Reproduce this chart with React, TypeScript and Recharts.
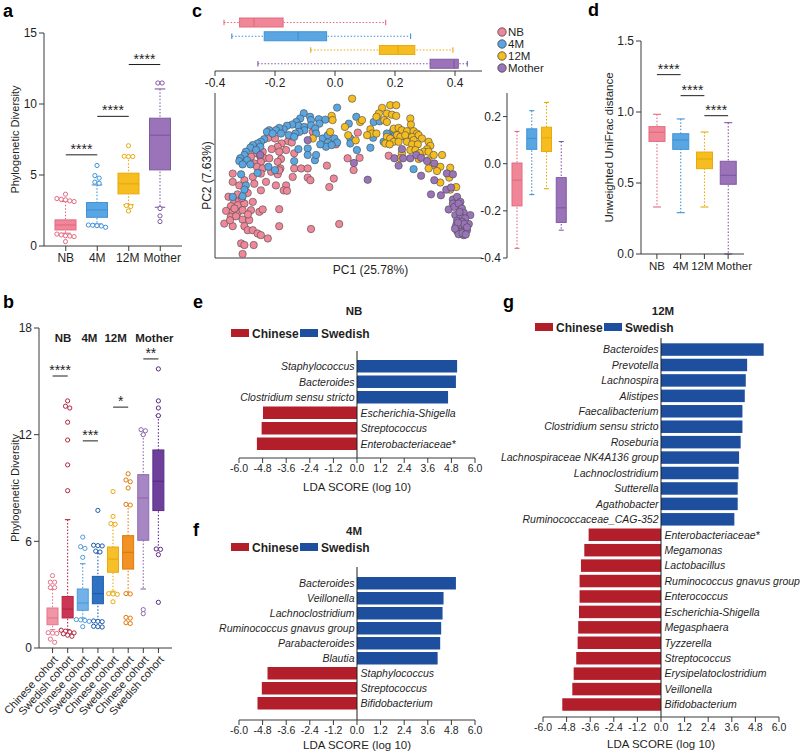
import React from 'react';
import {
  BarChart, ComposedChart, ScatterChart, Bar, Scatter, XAxis, YAxis, ReferenceLine, Legend, Label,
} from 'recharts';

const FONT = '"Liberation Sans", Arial, Helvetica, sans-serif';
const INK = '#1f1f1f';
const AXIS = '#3a3a3a';

// shared stage categories + colours
const STAGES = ['NB', '4M', '12M', 'Mother'];
const STAGE_FILL = ['#EF8799', '#5AA6E2', '#F6BD20', '#9A73B9'];
const STAGE_LINE = ['#E46A80', '#3F92D8', '#EAA90C', '#8059A6'];

// ---- a: phylogenetic diversity per stage
const A_LO = [0.9, 1.55, 2.9, 2.73];
const A_Q1 = [1.13, 2.02, 3.67, 5.36];
const A_MED = [1.48, 2.54, 4.38, 7.8];
const A_Q3 = [1.84, 3.06, 5.13, 9.0];
const A_HI = [3.13, 4.3, 6.3, 11.06];
const A_OUT = [
  [3.65, 3.34, 3.29, 3.25, 3.18, 3.13, 0.84, 0.78, 0.72, 0.7, 0.66, 0.31],
  [5.67, 4.96, 4.78, 4.5, 4.42, 1.48, 1.46, 1.43, 1.41, 1.32],
  [7.06, 6.32, 6.3, 6.3, 2.85, 2.78, 2.47],
  [11.48, 11.48, 2.64, 2.12, 1.72],
];
const A_SIG = [
  { from: 'NB', to: '4M', y: 6.42, mark: '****' },
  { from: '4M', to: '12M', y: 9.13, mark: '****' },
  { from: '12M', to: 'Mother', y: 12.78, mark: '****' },
];

// ---- b: per cohort
const COHORT_LABELS = ['Chinese cohort', 'Swedish cohort'];
const B_KEYS = STAGES.flatMap((s) => COHORT_LABELS.map((c) => `${s}|${c}`));
const B_LO = [1.03, 1.03, 1.69, 1.56, 3.19, 3.09, 3.32, 5.53];
const B_Q1 = [1.31, 1.69, 2.12, 2.49, 4.26, 4.44, 6.06, 7.73];
const B_MED = [1.69, 2.19, 2.53, 3.06, 5.0, 5.38, 8.44, 9.38];
const B_Q3 = [2.25, 2.9, 3.32, 4.03, 5.68, 6.32, 9.75, 11.14];
const B_HI = [3.3, 7.22, 4.74, 5.34, 7.03, 8.06, 12.0, 13.07];
const B_OUT = [
  [4.07, 3.7, 3.7, 3.4, 3.4, 0.86, 0.84, 0.82, 0.5, 0.32],
  [13.9, 13.6, 13.5, 12.7, 11.7, 10.3, 8.85, 1.0, 0.95, 0.9, 0.85, 0.8, 0.72, 0.66],
  [6.24, 5.7, 5.6, 5.1, 1.6, 1.58, 1.55, 1.5, 1.2],
  [7.74, 5.78, 5.76, 5.74, 5.45, 5.4, 1.52, 1.5, 1.48, 1.22, 1.2, 1.18],
  [8.8, 7.4, 7.0, 6.96, 3.06, 3.04, 3.02, 2.6],
  [9.8, 9.45, 9.35, 9.0, 8.08, 8.04, 3.06, 3.04, 1.72, 1.68, 1.42, 1.38],
  [12.28, 12.22, 12.0, 2.16, 1.93],
  [15.7, 13.9, 13.5, 13.07, 5.57, 5.55, 5.25, 2.57],
];
const B_FILL = ['#F097A7', '#CC3553', '#73B2E8', '#2F72C4', '#F6C02A', '#F19224', '#A786C4', '#6F3F9C'];
const B_LINE = ['#E57489', '#B42440', '#4F9ADB', '#1F5BAA', '#ECA90E', '#DE7A0D', '#8E68B0', '#5A2C86'];
const B_SIG = [
  { stage: 'NB', y: 15.3, mark: '****' },
  { stage: '4M', y: 11.65, mark: '***' },
  { stage: '12M', y: 13.55, mark: '*' },
  { stage: 'Mother', y: 16.26, mark: '**' },
];
const B_HEAD_Y = 17.45;

// ---- c: PCoA
const NB_PTS = [
  [-0.222, 0.11], [-0.2, 0.107], [-0.156, 0.096], [-0.144, 0.09], [-0.074, 0.135], [-0.178, 0.086], [-0.191, 0.072],
  [-0.211, 0.062], [-0.163, 0.058], [-0.136, 0.044], [-0.186, 0.051], [-0.241, 0.051], [-0.269, 0.044], [-0.249, 0.03],
  [-0.236, 0.023], [-0.219, 0.023], [-0.28, 0.03], [-0.18, 0.02], [-0.247, 0.008], [-0.191, 0.008], [-0.269, 0.001],
  [-0.26, -0.013], [-0.241, -0.02], [-0.182, -0.02], [-0.136, -0.02], [-0.113, -0.02], [-0.091, -0.02], [-0.027, -0.008],
  [0.003, 0.082], [0.042, 0.023], [-0.213, -0.034], [-0.341, -0.042], [-0.302, -0.07], [-0.274, -0.056], [-0.247, -0.042],
  [-0.191, -0.045], [-0.186, -0.028], [-0.141, -0.056], [-0.091, -0.059], [-0.082, -0.07], [-0.004, -0.063], [-0.019, -0.099],
  [-0.341, -0.077], [-0.319, -0.092], [-0.269, -0.085], [-0.23, -0.077], [-0.197, -0.092], [-0.163, -0.092], [-0.171, -0.113],
  [-0.16, -0.115], [-0.247, -0.113], [-0.291, -0.124], [-0.336, -0.162], [-0.319, -0.155], [-0.347, -0.18], [-0.324, -0.176],
  [-0.302, -0.169], [-0.274, -0.162], [-0.363, -0.2], [-0.341, -0.204], [-0.324, -0.208], [-0.308, -0.197], [-0.28, -0.197],
  [-0.252, -0.204], [-0.241, -0.194], [-0.186, -0.193], [-0.347, -0.225], [-0.33, -0.223], [-0.308, -0.237], [-0.286, -0.239],
  [-0.369, -0.254], [-0.341, -0.265], [-0.302, -0.265], [-0.291, -0.282], [-0.274, -0.282], [-0.258, -0.296], [-0.247, -0.303],
  [-0.224, -0.317], [-0.186, -0.265], [-0.08, -0.277], [0.014, -0.256], [-0.313, -0.338], [-0.302, -0.345], [-0.271, -0.345],
  [-0.308, -0.383], [0.076, 0.132], [0.179, 0.034], [0.082, 0.025], [0.062, -0.027], [-0.325, -0.13], [-0.355, -0.14],
  [-0.31, -0.145], [-0.335, -0.19], [-0.29, -0.215], [-0.35, -0.24],
];
const M4_PTS = [
  [0.007, 0.238], [-0.104, 0.214], [-0.083, 0.199], [-0.116, 0.192], [-0.08, 0.185], [-0.054, 0.189], [-0.129, 0.177],
  [-0.032, 0.187], [-0.122, 0.161], [-0.143, 0.166], [-0.102, 0.156], [-0.08, 0.163], [-0.052, 0.17], [-0.066, 0.149],
  [-0.102, 0.142], [-0.16, 0.161], [-0.171, 0.146], [-0.186, 0.152], [-0.197, 0.142], [-0.219, 0.142], [-0.227, 0.135],
  [-0.208, 0.128], [-0.18, 0.128], [-0.119, 0.135], [-0.132, 0.128], [-0.154, 0.121], [-0.136, 0.114], [-0.063, 0.128],
  [-0.041, 0.107], [-0.024, 0.121], [-0.002, 0.107], [0.007, 0.09], [-0.024, 0.09], [-0.03, 0.072], [-0.049, 0.082],
  [-0.011, 0.079], [-0.091, 0.065], [-0.122, 0.062], [-0.136, 0.011], [-0.091, 0.037], [-0.067, 0.015], [-0.063, 0.037],
  [-0.236, 0.104], [-0.247, 0.093], [-0.258, 0.086], [-0.274, 0.079], [-0.282, 0.068], [-0.249, 0.072], [-0.263, 0.058],
  [-0.297, 0.051], [-0.302, 0.037], [-0.316, 0.023], [-0.293, 0.015], [-0.319, 0.011], [-0.308, -0.003], [-0.282, -0.003],
  [-0.222, -0.013], [-0.2, -0.027], [-0.313, -0.045], [-0.258, -0.039], [-0.297, -0.092], [-0.302, -0.11], [-0.341, -0.141],
  [-0.308, -0.138], [0.071, 0.199], [0.046, 0.17], [0.129, 0.177], [0.149, 0.18], [0.193, 0.138], [0.201, 0.124],
  [0.223, 0.121], [0.234, 0.114], [0.173, 0.128], [0.162, 0.093], [0.127, 0.11], [0.118, 0.068], [0.073, 0.058],
  [0.051, 0.107], [0.051, 0.086], [0.262, -0.023],
];
const M12_PTS = [
  [-0.011, 0.203], [-0.008, 0.185], [0.033, 0.156], [-0.016, 0.135], [-0.074, 0.107], [0.044, 0.121], [0.057, 0.276],
  [0.184, 0.248], [0.204, 0.248], [0.157, 0.237], [0.146, 0.213], [0.173, 0.213], [0.19, 0.208], [0.204, 0.203],
  [0.138, 0.199], [0.084, 0.177], [0.164, 0.185], [0.173, 0.177], [0.251, 0.192], [0.253, 0.166], [0.196, 0.149],
  [0.212, 0.152], [0.223, 0.142], [0.24, 0.138], [0.262, 0.138], [0.273, 0.128], [0.118, 0.146], [0.123, 0.128],
  [0.107, 0.121], [0.138, 0.128], [0.207, 0.121], [0.218, 0.114], [0.234, 0.121], [0.257, 0.114], [0.279, 0.121],
  [0.173, 0.114], [0.184, 0.107], [0.196, 0.093], [0.212, 0.093], [0.24, 0.093], [0.262, 0.1], [0.29, 0.107],
  [0.168, 0.086], [0.182, 0.082], [0.257, 0.082], [0.276, 0.082], [0.312, 0.093], [0.318, 0.076], [0.251, 0.058],
  [0.268, 0.058], [0.307, 0.062], [0.296, 0.051], [0.312, 0.051], [0.223, 0.044], [0.282, 0.044], [0.329, 0.037],
  [0.357, 0.037], [0.279, 0.02], [0.312, 0.015], [0.327, -0.006], [0.351, -0.013], [0.384, -0.017], [0.312, -0.02],
  [0.34, -0.031], [0.218, 0.023], [0.351, -0.08], [0.381, -0.059], [0.384, -0.11], [0.404, -0.099], [0.069, 0.099],
  [0.09, 0.185],
];
const MOTHER_PTS = [
  [-0.091, 0.1], [-0.249, 0.037], [0.063, 0.003], [0.223, 0.062], [0.198, 0.023], [0.227, 0.023], [0.251, 0.023],
  [0.271, 0.037], [0.287, 0.025], [0.307, 0.011], [0.212, -0.008], [0.331, 0.001], [0.373, -0.041], [0.393, -0.045],
  [0.287, -0.051], [0.109, -0.068], [0.331, -0.07], [0.32, -0.13], [0.353, -0.134], [0.371, -0.11], [0.387, -0.101],
  [0.393, -0.152], [0.407, -0.141], [0.418, -0.162], [0.393, -0.169], [0.379, -0.194], [0.398, -0.183], [0.412, -0.169],
  [0.423, -0.19], [0.429, -0.208], [0.451, -0.218], [0.401, -0.218], [0.418, -0.225], [0.434, -0.232], [0.407, -0.242],
  [0.423, -0.246], [0.446, -0.256], [0.404, -0.261], [0.418, -0.27], [0.434, -0.275], [0.407, -0.285], [0.423, -0.289],
  [0.44, -0.282], [0.412, -0.299], [0.429, -0.303], [0.415, -0.205], [0.43, -0.255], [0.44, -0.27], [0.41, -0.25],
  [0.425, -0.295], [0.436, -0.3], [0.4, -0.275],
];
const PCOA_PTS = [NB_PTS, M4_PTS, M12_PTS, MOTHER_PTS];

// PC1 distribution (top) and PC2 distribution (right)
const PC1_LO = [-0.37, -0.344, -0.081, -0.257];
const PC1_Q1 = [-0.318, -0.236, 0.148, 0.317];
const PC1_MED = [-0.27, -0.123, 0.21, 0.397];
const PC1_Q3 = [-0.173, -0.028, 0.266, 0.411];
const PC1_HI = [0.169, 0.252, 0.393, 0.441];
const PC2_LO = [-0.359, -0.131, -0.106, -0.282];
const PC2_Q1 = [-0.179, 0.061, 0.052, -0.249];
const PC2_MED = [-0.07, 0.107, 0.11, -0.187];
const PC2_Q3 = [0.003, 0.148, 0.155, -0.059];
const PC2_HI = [0.137, 0.225, 0.26, 0.094];

// ---- d: unweighted UniFrac
const D_LO = [0.331, 0.291, 0.331, 0.0];
const D_Q1 = [0.793, 0.737, 0.601, 0.491];
const D_MED = [0.857, 0.803, 0.669, 0.554];
const D_Q3 = [0.897, 0.847, 0.718, 0.653];
const D_HI = [0.984, 0.951, 0.859, 0.925];
const D_SIG = [
  { from: 'NB', to: '4M', y: 1.263, mark: '****' },
  { from: '4M', to: '12M', y: 1.115, mark: '****' },
  { from: '12M', to: 'Mother', y: 0.974, mark: '****' },
];

// ---- e/f/g: LEfSe
const COHORTS = ['Chinese', 'Swedish'];
const COHORT_COLORS = ['#B21F2B', '#1D4F9E'];
const LDA_TICKS = [-6, -4.8, -3.6, -2.4, -1.2, 0, 1.2, 2.4, 3.6, 4.8, 6];
const E_TAXA = ['Staphylococcus', 'Bacteroides', 'Clostridium sensu stricto', 'Escherichia-Shigella', 'Streptococcus', 'Enterobacteriaceae*'];
const E_LDA = [5.09, 5.03, 4.63, -4.78, -4.85, -5.09];
const F_TAXA = ['Bacteroides', 'Veillonella', 'Lachnoclostridium', 'Ruminococcus gnavus group', 'Parabacteroides', 'Blautia', 'Staphylococcus', 'Streptococcus', 'Bifidobacterium'];
const F_LDA = [5.03, 4.4, 4.35, 4.28, 4.23, 4.1, -4.55, -4.84, -5.06];
const G_TAXA = [
  'Bacteroides', 'Prevotella', 'Lachnospira', 'Alistipes', 'Faecalibacterium', 'Clostridium sensu stricto', 'Roseburia',
  'Lachnospiraceae NK4A136 group', 'Lachnoclostridium', 'Sutterella', 'Agathobacter', 'Ruminococcaceae_CAG-352',
  'Enterobacteriaceae*', 'Megamonas', 'Lactobacillus', 'Ruminococcus gnavus group', 'Enterococcus', 'Escherichia-Shigella',
  'Megasphaera', 'Tyzzerella', 'Streptococcus', 'Erysipelatoclostridium', 'Veillonella', 'Bifidobacterium',
];
const G_LDA = [5.22, 4.38, 4.31, 4.26, 4.14, 4.14, 4.05, 3.97, 3.94, 3.9, 3.9, 3.73, -3.68, -3.9, -4.07, -4.14, -4.14, -4.17, -4.21, -4.24, -4.31, -4.44, -4.51, -5.02];

// small horizontal nudges so neighbouring labels don't collide
const A_TICK_NUDGE = [0, 0, -1, 2];
const D_TICK_NUDGE = [0, 0, -2, 6];
const B_HEAD_NUDGE = [3, -1, -5, 3.5];

const boxRows = (names: string[], lo: number[], q1: number[], med: number[], q3: number[], hi: number[], out: number[][] | null, fill: string[], line: string[]) =>
  names.map((name, i) => ({ name, lo: lo[i], q1: q1[i], med: med[i], q3: q3[i], hi: hi[i], out: out ? out[i] : [], fill: fill[i], line: line[i] }));

const aRows = boxRows(STAGES, A_LO, A_Q1, A_MED, A_Q3, A_HI, A_OUT, STAGE_FILL, STAGE_LINE);
const bRows = boxRows(B_KEYS, B_LO, B_Q1, B_MED, B_Q3, B_HI, B_OUT, B_FILL, B_LINE);
const pc1Rows = boxRows(STAGES, PC1_LO, PC1_Q1, PC1_MED, PC1_Q3, PC1_HI, null, STAGE_FILL, STAGE_LINE);
const pc2Rows = boxRows(STAGES, PC2_LO, PC2_Q1, PC2_MED, PC2_Q3, PC2_HI, null, STAGE_FILL, STAGE_LINE);
const dRows = boxRows(STAGES, D_LO, D_Q1, D_MED, D_Q3, D_HI, null, STAGE_FILL, STAGE_LINE);
const ldaRows = (taxa: string[], lda: number[]) => taxa.map((name, i) => ({ name, lda: lda[i] }));

const range = (d: any) => [d.lo, d.hi];

// spread outliers sitting at about the same height side by side
const spread = (vals: number[], py: (v: number) => number, cx: number, gap: number) => {
  const ys = vals.map(py).sort((a, b) => a - b);
  const pts: { x: number; y: number }[] = [];
  let i = 0;
  while (i < ys.length) {
    let j = i;
    while (j + 1 < ys.length && ys[j + 1] - ys[i] < 3.2) j++;
    const n = j - i + 1;
    for (let k = 0; k < n; k++) pts.push({ x: cx + (k - (n - 1) / 2) * gap, y: ys[i + k] });
    i = j + 1;
  }
  return pts;
};

// vertical box: bar spans the whiskers, the rest is placed along that span
const VBox = (p: any) => {
  const { x, y, width, height, payload: d } = p;
  if (!d || !height) return null;
  const py = (v: number) => y + ((d.hi - v) / (d.hi - d.lo)) * height;
  const cx = x + width / 2;
  const cap = width * 0.25;
  const pts = spread(d.out, py, cx, 4.3);
  return (
    <g>
      <line x1={cx} x2={cx} y1={py(d.hi)} y2={py(d.lo)} stroke={d.line} strokeWidth={1.1} strokeDasharray="1.5 1.8" />
      <line x1={cx - cap} x2={cx + cap} y1={py(d.hi)} y2={py(d.hi)} stroke={d.line} strokeWidth={1.1} />
      <line x1={cx - cap} x2={cx + cap} y1={py(d.lo)} y2={py(d.lo)} stroke={d.line} strokeWidth={1.1} />
      <rect x={x} y={py(d.q3)} width={width} height={py(d.q1) - py(d.q3)} fill={d.fill} stroke={d.line} strokeWidth={1} />
      <line x1={x} x2={x + width} y1={py(d.med)} y2={py(d.med)} stroke={d.line} strokeWidth={1.2} />
      {pts.map((q, k) => (
        <circle key={k} cx={q.x} cy={q.y} r={2.1} fill="#fff" stroke={d.line} strokeWidth={1} />
      ))}
    </g>
  );
};

const HBox = (p: any) => {
  const { x, y, width, height, payload: d } = p;
  if (!d || !width) return null;
  const px = (v: number) => x + ((v - d.lo) / (d.hi - d.lo)) * width;
  const cy = y + height / 2;
  const cap = height * 0.3;
  return (
    <g>
      <line x1={px(d.lo)} x2={px(d.hi)} y1={cy} y2={cy} stroke={d.line} strokeWidth={1.1} strokeDasharray="1.5 1.8" />
      <line x1={px(d.lo)} x2={px(d.lo)} y1={cy - cap} y2={cy + cap} stroke={d.line} strokeWidth={1.1} />
      <line x1={px(d.hi)} x2={px(d.hi)} y1={cy - cap} y2={cy + cap} stroke={d.line} strokeWidth={1.1} />
      <rect x={px(d.q1)} y={y} width={px(d.q3) - px(d.q1)} height={height} fill={d.fill} stroke={d.line} strokeWidth={1} />
      <line x1={px(d.med)} x2={px(d.med)} y1={y} y2={y + height} stroke={d.line} strokeWidth={1.2} />
    </g>
  );
};

const LdaBar = (p: any) => {
  const { x, y, width, height, payload } = p;
  if (!payload) return null;
  const left = Math.min(x, x + width);
  const w = Math.abs(width);
  const pos = payload.lda >= 0;
  const zero = pos ? left : left + w;
  return (
    <g>
      <rect x={left} y={y} width={w} height={height} fill={pos ? COHORT_COLORS[1] : COHORT_COLORS[0]} />
      <text x={pos ? zero - 2.5 : zero + 3.5} y={y + height / 2} dy="0.36em" textAnchor={pos ? 'end' : 'start'}
        fontSize={10.5} fontStyle="italic" fill={INK}>{payload.name}</text>
    </g>
  );
};

const CohortTick = (p: any) => {
  const { x, y, payload } = p;
  const label = String(payload.value).split('|')[1];
  const ax = x + 6;
  const ay = y + 5;
  return (
    <text x={ax} y={ay} transform={`rotate(-48 ${ax} ${ay})`} textAnchor="end" fontSize={11} fill={INK}>{label}</text>
  );
};

const stageTick = (nudge: number[], fontSize: number) => (p: any) => {
  const { x, y, payload, index } = p;
  return (
    <text x={x + (nudge[index] || 0)} y={y} dy="0.75em" textAnchor="middle" fontSize={fontSize} fill={INK}>{payload.value}</text>
  );
};
const TickA = stageTick(A_TICK_NUDGE, 12);
const TickD = stageTick(D_TICK_NUDGE, 11.5);

const CohortLegend = () => (
  <svg width={150} height={14} style={{ display: 'block', overflow: 'visible' }}>
    {COHORTS.map((c, i) => (
      <g key={c} transform={`translate(${i * 69},0)`}>
        <rect x={0} y={3} width={18} height={8} fill={COHORT_COLORS[i]} />
        <text x={21} y={11.5} fontSize={12} fontWeight="bold" fill={INK}>{c}</text>
      </g>
    ))}
  </svg>
);

const StageLegend = () => (
  <svg width={80} height={50} style={{ display: 'block', overflow: 'visible' }}>
    {STAGES.map((s, i) => (
      <g key={s}>
        <circle cx={5} cy={5 + i * 12} r={4.2} fill={STAGE_FILL[i]} stroke="#444" strokeWidth={0.8} />
        <text x={11} y={9 + i * 12} fontSize={11.5} fill={INK}>{s}</text>
      </g>
    ))}
  </svg>
);

const tick12 = { fontSize: 12, fill: INK };
const fmt1 = (v: number) => v.toFixed(1);

const LdaPanel = ({ rows, left, top, width, height, marginLeft, axisH, pad, legendLeft, legendTop }: any) => (
  <div style={{ position: 'absolute', left, top }}>
    <BarChart layout="vertical" width={width} height={height} data={rows}
      margin={{ top: 10, right: width - marginLeft - 236, bottom: 0, left: marginLeft }}>
      <XAxis type="number" domain={[-6, 6]} ticks={LDA_TICKS} tickFormatter={fmt1} interval={0} stroke={AXIS}
        height={axisH} tickSize={5} tick={{ fontSize: 10.5, fill: INK }}>
        <Label value="LDA SCORE (log 10)" position="insideBottom" offset={3} style={{ fontSize: 11.5, fill: INK }} />
      </XAxis>
      <YAxis type="category" dataKey="name" hide padding={{ top: pad, bottom: pad }} />
      <ReferenceLine x={0} stroke={INK} strokeWidth={1} ifOverflow="visible" />
      <Bar dataKey="lda" barSize={12.5} shape={LdaBar} isAnimationActive={false} />
      <Legend layout="vertical" align="center" verticalAlign="middle" content={CohortLegend}
        wrapperStyle={{ left: legendLeft, top: legendTop, width: 150, height: 14 }} />
    </BarChart>
  </div>
);

export default function App() {
  return (
    <div style={{ position: 'absolute', left: 0, top: 0, width: 800, height: 754, overflow: 'hidden', background: '#fff', fontFamily: FONT }}>
      {/* a */}
      <div style={{ position: 'absolute', left: 0, top: 23 }}>
        <ComposedChart width={192} height={253} data={aRows} margin={{ top: 10, right: 10, bottom: 0, left: 0 }}>
          <XAxis dataKey="name" stroke={AXIS} tick={<TickA />} tickSize={5} height={30} padding={{ left: 6, right: 6 }} interval={0} />
          <YAxis domain={[0, 15]} ticks={[0, 5, 10, 15]} stroke={AXIS} width={44} tick={tick12} tickSize={5} interval={0}>
            <Label value="Phylogenetic Diversity" angle={-90} position="insideLeft" offset={15} style={{ textAnchor: 'middle', fontSize: 11, fill: INK }} />
          </YAxis>
          <Bar dataKey={range} barSize={21} shape={VBox} isAnimationActive={false} />
          {A_SIG.map((s) => (
            <ReferenceLine key={s.from} segment={[{ x: s.from, y: s.y }, { x: s.to, y: s.y }]} stroke={INK} strokeWidth={1}
              ifOverflow="visible" label={{ value: s.mark, position: 'top', offset: 1, fontSize: 14, fill: INK }} />
          ))}
        </ComposedChart>
      </div>

      {/* b */}
      <div style={{ position: 'absolute', left: 0, top: 318 }}>
        <ComposedChart width={182} height={405} data={bRows} margin={{ top: 10, right: 10, bottom: 0, left: 0 }}>
          <XAxis dataKey="name" stroke={AXIS} tick={<CohortTick />} tickSize={5} height={75} padding={{ left: 6, right: 6 }} interval={0} />
          <YAxis domain={[0, 18]} ticks={[0, 6, 12, 18]} stroke={AXIS} width={39} tick={tick12} tickSize={5} interval={0}>
            <Label value="Phylogenetic Diversity" angle={-90} position="insideLeft" offset={15} style={{ textAnchor: 'middle', fontSize: 11, fill: INK }} />
          </YAxis>
          <Bar dataKey={range} barSize={11} shape={VBox} isAnimationActive={false} />
          {B_SIG.map((s) => (
            <ReferenceLine key={s.stage} segment={[{ x: `${s.stage}|${COHORT_LABELS[0]}`, y: s.y }, { x: `${s.stage}|${COHORT_LABELS[1]}`, y: s.y }]}
              stroke={INK} strokeWidth={1} ifOverflow="visible"
              label={{ value: s.mark, position: 'top', offset: 1, fontSize: 14, fill: INK }} />
          ))}
          {STAGES.map((s, i) => (
            <ReferenceLine key={`h-${s}`} segment={[{ x: `${s}|${COHORT_LABELS[0]}`, y: B_HEAD_Y }, { x: `${s}|${COHORT_LABELS[1]}`, y: B_HEAD_Y }]}
              stroke="none" ifOverflow="visible"
              label={{ value: s, position: 'center', dx: B_HEAD_NUDGE[i], fontSize: 11.5, fontWeight: 'bold', fill: INK }} />
          ))}
        </ComposedChart>
      </div>

      {/* c: PC1 distribution */}
      <div style={{ position: 'absolute', left: 200, top: 6 }}>
        <ComposedChart layout="vertical" width={297} height={90} data={pc1Rows} margin={{ top: 10, right: 15, bottom: 0, left: 15 }}>
          <XAxis type="number" domain={[-0.4, 0.49]} ticks={[-0.4, -0.2, 0, 0.2, 0.4]} tickFormatter={fmt1} interval={0}
            stroke={AXIS} height={25} tickSize={5} tick={tick12} />
          <YAxis type="category" dataKey="name" hide />
          <Bar dataKey={range} barSize={9} shape={HBox} isAnimationActive={false} />
        </ComposedChart>
      </div>

      {/* c: scatter */}
      <div style={{ position: 'absolute', left: 190, top: 83 }}>
        <ScatterChart width={307} height={197} margin={{ top: 10, right: 15, bottom: 0, left: 5 }}>
          <XAxis type="number" dataKey="0" domain={[-0.4, 0.49]} tick={false} tickLine={false} stroke={AXIS} height={22}>
            <Label value="PC1 (25.78%)" position="insideBottom" offset={6} dx={22} style={{ fontSize: 12, fill: INK }} />
          </XAxis>
          <YAxis type="number" dataKey="1" domain={[-0.4, 0.3]} tick={false} tickLine={false} stroke={AXIS} width={20}>
            <Label value="PC2 (7.63%)" angle={-90} position="insideLeft" offset={12} style={{ textAnchor: 'middle', fontSize: 12, fill: INK }} />
          </YAxis>
          {STAGES.map((s, i) => (
            <Scatter key={s} name={s} data={PCOA_PTS[i]} fill={STAGE_FILL[i]} isAnimationActive={false}
              shape={(q: any) => <circle cx={q.cx} cy={q.cy} r={3.7} fill={STAGE_FILL[i]} stroke="#4a4a4a" strokeWidth={0.6} />} />
          ))}
          <Legend layout="vertical" align="center" verticalAlign="middle" content={StageLegend}
            wrapperStyle={{ left: 306.5, top: -56, width: 80, height: 50 }} />
        </ScatterChart>
      </div>

      {/* c: PC2 distribution */}
      <div style={{ position: 'absolute', left: 470, top: 83 }}>
        <ComposedChart width={107} height={185} data={pc2Rows} margin={{ top: 10, right: 5, bottom: 10, left: 0 }}>
          <XAxis dataKey="name" hide padding={{ left: 3, right: 3 }} />
          <YAxis domain={[-0.4, 0.3]} ticks={[-0.4, -0.2, 0, 0.2]} tickFormatter={fmt1} interval={0} stroke={AXIS}
            width={37} tickSize={4} tick={tick12} />
          <Bar dataKey={range} barSize={10} shape={VBox} isAnimationActive={false} />
        </ComposedChart>
      </div>

      {/* d */}
      <div style={{ position: 'absolute', left: 596, top: 31 }}>
        <ComposedChart width={158} height={253} data={dRows} margin={{ top: 10, right: 10, bottom: 0, left: 0 }}>
          <XAxis dataKey="name" stroke={AXIS} tick={<TickD />} tickSize={5} height={30} padding={{ left: 4, right: 4 }} interval={0} />
          <YAxis domain={[0, 1.5]} ticks={[0, 0.5, 1, 1.5]} tickFormatter={fmt1} stroke={AXIS} width={45} tick={tick12} tickSize={5} interval={0}>
            <Label value="Unweighted UniFrac distance" angle={-90} position="insideLeft" offset={13} style={{ textAnchor: 'middle', fontSize: 11.5, fill: INK }} />
          </YAxis>
          <Bar dataKey={range} barSize={16} shape={VBox} isAnimationActive={false} />
          {D_SIG.map((s) => (
            <ReferenceLine key={s.from} segment={[{ x: s.from, y: s.y }, { x: s.to, y: s.y }]} stroke={INK} strokeWidth={1}
              ifOverflow="visible" label={{ value: s.mark, position: 'top', offset: 1, fontSize: 14, fill: INK }} />
          ))}
        </ComposedChart>
      </div>

      {/* e, f, g */}
      <LdaPanel rows={ldaRows(E_TAXA, E_LDA)} left={205} top={341} width={285} height={153} marginLeft={34} axisH={36} pad={7} legendLeft={26} legendTop={-15} />
      <LdaPanel rows={ldaRows(F_TAXA, F_LDA)} left={205} top={557} width={285} height={195} marginLeft={34} axisH={32} pad={9} legendLeft={26} legendTop={-17} />
      <LdaPanel rows={ldaRows(G_TAXA, G_LDA)} left={495} top={328} width={305} height={423} marginLeft={48} axisH={34} pad={4.3} legendLeft={40} legendTop={-8.5} />

      {/* panel letters and titles */}
      <svg width={800} height={754} style={{ position: 'absolute', left: 0, top: 0, pointerEvents: 'none' }}>
        <g fontSize={18} fontWeight="bold" fill="#000">
          <text x={3} y={17}>a</text>
          <text x={3} y={308}>b</text>
          <text x={192} y={17}>c</text>
          <text x={588} y={16}>d</text>
          <text x={193} y={308}>e</text>
          <text x={193} y={536}>f</text>
          <text x={503} y={308}>g</text>
        </g>
        <g fontSize={11.5} fontWeight="bold" fill={INK} textAnchor="middle">
          <text x={354} y={315}>NB</text>
          <text x={354} y={535}>4M</text>
          <text x={663} y={315}>12M</text>
        </g>
      </svg>
    </div>
  );
}
